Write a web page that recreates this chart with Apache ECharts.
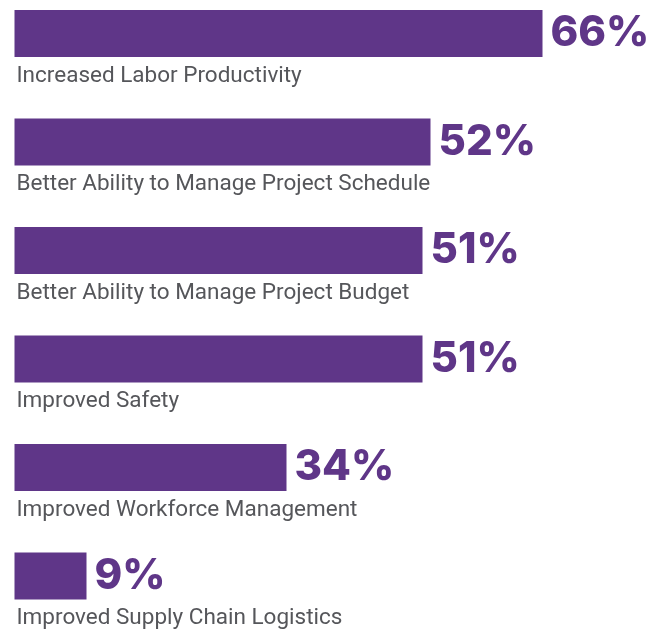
<!DOCTYPE html>
<html>
<head>
<meta charset="utf-8">
<script src="https://cdn.jsdelivr.net/npm/echarts@6/dist/echarts.min.js"></script>
<style>
html,body{margin:0;padding:0;background:#fff;}
#c{width:658px;height:630px;}
</style>
</head>
<body>
<div id="c"></div>
<script>
const categories = [
  "Increased Labor Productivity",
  "Better Ability to Manage Project Schedule",
  "Better Ability to Manage Project Budget",
  "Improved Safety",
  "Improved Workforce Management",
  "Improved Supply Chain Logistics"
];
const values = [66, 52, 51, 51, 34, 9];

const chart = echarts.init(document.getElementById('c'));
chart.setOption({
  animation: false,
  grid: { left: 14.5, right: 3.5, top: 33.5, bottom: 53.5, containLabel: false },
  xAxis: {
    type: 'value', min: 0, max: 80,
    show: false
  },
  yAxis: {
    type: 'category',
    data: categories,
    inverse: true,
    boundaryGap: false,
    axisLine: { show: false },
    axisTick: { show: false },
    splitLine: { show: false },
    axisLabel: {
      inside: true,
      margin: 2,
      align: 'left',
      verticalAlign: 'top',
      padding: [31, 0, 0, 0],
      fontFamily: 'Roboto',
      fontSize: 22.5,
      color: '#55565a'
    }
  },
  series: [{
    type: 'bar',
    data: values,
    barWidth: 47,
    clip: false,
    itemStyle: { color: '#5f3688' },
    label: {
      show: true,
      position: 'right',
      distance: 8,
      formatter: '{c}%',
      fontFamily: 'Inter',
      fontWeight: 800,
      fontSize: 42,
      color: '#5f3688'
    }
  }]
});
</script>
</body>
</html>
